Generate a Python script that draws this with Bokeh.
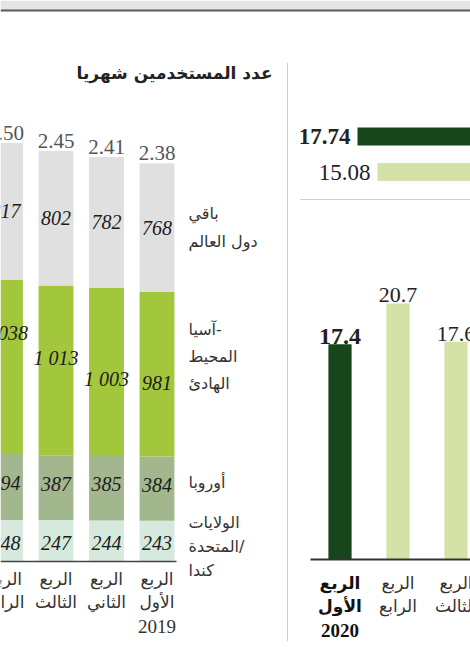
import numpy as np
from bokeh.plotting import figure
from bokeh.models import Range1d
from bokeh.core.properties import value
from bokeh.embed import file_html
from bokeh.resources import INLINE

# ---------------- data ----------------
# monthly users (millions), quarters of 2019 ordered right -> left
quarter_lines_2019 = [["الربع", "الأول", "2019"], ["الربع", "الثاني"],
                      ["الربع", "الثالث"], ["الربع", "الرابع"]]
us_canada = [243, 244, 247, 248]
europe = [384, 385, 387, 394]
asia_pacific = [981, 1003, 1013, 1038]
rest_of_world = [768, 782, 802, 817]
total_users_bn = [2.38, 2.41, 2.45, 2.50]
series_lines = [["الولايات", "المتحدة/", "كندا"], ["أوروبا"],
                ["آسيا-", "المحيط", "الهادئ"], ["باقي", "دول العالم"]]
title_users = "عدد المستخدمين شهريا"

# first-quarter comparison (horizontal bars)
q1_revenue = [17.74, 15.08]

# quarterly figures (vertical bars), ordered right -> left from 2020
quarter_lines_rev = [["الربع", "الأول", "2020"], ["الربع", "الرابع"], ["الربع", "الثالث"]]
quarter_revenue = [17.4, 20.7, 17.6]

# ---------------- style ----------------
W, H = 470, 647
C_REST, C_ASIA, C_EUR, C_US = "#e0e0e0", "#a2c73d", "#a3b78f", "#d6e9dd"
C_DARK, C_LIGHT = "#17461c", "#d4e1a7"
SERIF = value("Liberation Serif")
ARABIC = value("DejaVu Sans")


def rng(v0, p0, v1, p1, size, flip=False):
    """Range whose value v0 lands on pixel p0 and v1 on pixel p1."""
    if flip:
        p0, p1 = size - p0, size - p1
    s = (p1 - p0) / (v1 - v0)
    start = v0 - p0 / s
    return Range1d(start=start, end=start + size / s)


p = figure(width=W, height=H, x_range=Range1d(0, W), y_range=Range1d(H, 0),
           toolbar_location=None, output_backend="svg", min_border=0,
           x_axis_location=None, y_axis_location=None,
           outline_line_color=None, background_fill_color="white")
p.grid.visible = False

USER_PX = 0.1676  # px per million users
p.extra_x_ranges = {
    "ux": rng(0, 156.5, 1, 106, W),
    "rx": rng(0, 339.5, 1, 397.5, W),
    "hx": rng(0, 490, 10, 490 - 74.97, W),
}
p.extra_y_ranges = {
    "uy": rng(0, 561, 1000, 561 - 1000 * USER_PX, H, flip=True),
    "ry": rng(0, 559, 10, 559 - 123.7, H, flip=True),
    "hy": rng(0, 136, 1, 171.5, H, flip=True),
}

# top band
p.quad(left=[0], right=[W], top=[0], bottom=[9.5], color="#e5e5e7", line_color=None)
p.segment(x0=[0], x1=[W], y0=[10], y1=[10], line_color="#5a5a5a", line_width=2)

# ---------------- left panel: stacked bars ----------------
idx = np.arange(len(us_canada))
stack = np.vstack([us_canada, europe, asia_pacific, rest_of_world]).astype(float)
tops = np.cumsum(stack, axis=0)
bottoms = tops - stack
colors = [C_US, C_EUR, C_ASIA, C_REST]
for k in range(4):
    p.vbar(x=idx, bottom=bottoms[k], top=tops[k], width=0.69, fill_color=colors[k],
           line_color=None, x_range_name="ux", y_range_name="uy")

label_offsets = [[2, 2, 2, 2], [-4, -4, -4, -4], [9, 7, -12, -34], [0, 0, 0, 0]]
for k in range(4):
    texts = [f"{int(v):,}".replace(",", " ") for v in stack[k]]
    p.text(x=idx, y=(bottoms[k] + tops[k]) / 2, text=texts, y_offset=label_offsets[k],
           text_align="center", text_baseline="middle", text_font=SERIF,
           text_font_style="italic", text_font_size="20px", text_color="#1c1c1c",
           x_range_name="ux", y_range_name="uy")

p.text(x=idx, y=tops[-1], text=[f"{v:.2f}" for v in total_users_bn], y_offset=-10,
       text_align="center", text_baseline="alphabetic", text_font=SERIF,
       text_font_size="21px", text_color="#555555", x_range_name="ux", y_range_name="uy")

p.segment(x0=[0], x1=[176], y0=[561], y1=[561], line_color="#444444", line_width=1.5)

line_y_left = [578, 601, 626]
for j in range(3):
    xs = [i for i in idx if len(quarter_lines_2019[i]) > j]
    tx = [quarter_lines_2019[i][j] for i in xs]
    p.text(x=xs, y=[line_y_left[j]] * len(xs), text=tx, text_align="center",
           text_baseline="middle", text_font=SERIF if j == 2 else ARABIC,
           text_font_size="19px" if j == 2 else "17px", text_color="#333333",
           x_range_name="ux")

legend_y = [[522, 546, 570], [482], [329, 356, 383], [213, 241]]
for k in range(4):
    for j, t in enumerate(series_lines[k]):
        p.text(x=[188], y=[legend_y[k][j]], text=[t], text_align="left",
               text_baseline="middle", text_font=ARABIC, text_font_size="16px",
               text_color="#333333")

p.text(x=[272], y=[72], text=[title_users], text_align="right", text_baseline="middle",
       text_font=ARABIC, text_font_style="bold", text_font_size="17px", text_color="#222222")

# separator
p.segment(x0=[287], x1=[287], y0=[63], y1=[640], line_color="#9a9a9a", line_width=1,
          line_dash="1 1")

# ---------------- right panel: horizontal bars ----------------
hcol = [C_DARK, C_LIGHT]
p.hbar(y=[0, 1], left=0, right=q1_revenue, height=0.51, fill_color=hcol, line_color=None,
       x_range_name="hx", y_range_name="hy")
for i, style in enumerate(["bold", "normal"]):
    p.text(x=[q1_revenue[i]], y=[i], text=[f"{q1_revenue[i]:.2f}"], x_offset=-7,
           text_align="right", text_baseline="middle", text_font=SERIF,
           text_font_style=style, text_font_size="23px", text_color="#222222",
           x_range_name="hx", y_range_name="hy")

p.segment(x0=[300], x1=[W], y0=[199], y1=[199], line_color="#a0a0a0", line_width=1,
          line_dash="1 1")

# ---------------- right panel: vertical bars ----------------
ridx = np.arange(len(quarter_revenue))
rcol = [C_DARK] + [C_LIGHT] * (len(quarter_revenue) - 1)
p.vbar(x=ridx, bottom=0, top=quarter_revenue, width=0.4, fill_color=rcol, line_color=None,
       x_range_name="rx", y_range_name="ry")
for i in ridx:
    p.text(x=[i], y=[quarter_revenue[i]], text=[f"{quarter_revenue[i]:.1f}"], y_offset=-8,
           text_align="center", text_baseline="alphabetic", text_font=SERIF,
           text_font_style="bold" if i == 0 else "normal",
           text_font_size="24px" if i == 0 else "22px", text_color="#222222",
           x_range_name="rx", y_range_name="ry")

p.segment(x0=[310], x1=[W], y0=[559], y1=[559], line_color="#333333", line_width=2)

line_y_right = [582, 605, 630]
for i in ridx:
    for j, t in enumerate(quarter_lines_rev[i]):
        p.text(x=[i], y=[line_y_right[j]], text=[t], text_align="center",
               text_baseline="middle", text_font=SERIF if j == 2 else ARABIC,
               text_font_style="bold" if i == 0 else "normal",
               text_font_size="19px" if j == 2 else "17px",
               text_color="#111111" if i == 0 else "#333333", x_range_name="rx")

open("out.html", "w").write(file_html(p, INLINE))
